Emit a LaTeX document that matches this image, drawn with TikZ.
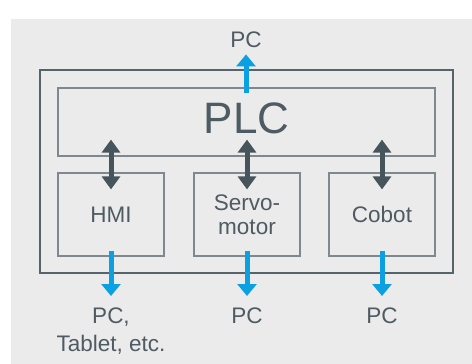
\documentclass[tikz,border=0pt]{standalone}
\usepackage{fontspec}
\setmainfont{Liberation Sans}
\usetikzlibrary{arrows.meta}
\definecolor{bgc}{HTML}{EBEBEB}
\definecolor{boxdark}{HTML}{55636A}
\definecolor{boxlight}{HTML}{7E898F}
\definecolor{txt}{HTML}{4E5B62}
\definecolor{arrdark}{HTML}{46545B}
\definecolor{arrblue}{HTML}{0AA0E2}
\tikzset{
  outerbox/.style={draw=boxdark, line width=2pt, minimum width=413pt, minimum height=203pt, inner sep=0pt},
  innerbox/.style={draw=boxlight, line width=1.2pt, inner sep=0pt, text=txt},
  dev/.style={innerbox, minimum width=106pt, minimum height=83pt, font=\fontsize{22.5}{24}\selectfont, align=center},
  lbl/.style={text=txt, inner sep=0pt, font=\fontsize{22.5}{28}\selectfont, align=center},
  darr/.style={draw=arrdark, line width=5pt, {Triangle[width=18pt,length=13pt]}-{Triangle[width=18pt,length=13pt]}},
  barr/.style={draw=arrblue, line width=5pt, -{Triangle[width=19pt,length=12pt]}}
}
\begin{document}
\begin{tikzpicture}[x=1pt,y=-1pt]
\useasboundingbox (0,0) rectangle (472,364);
\fill[bgc] (11,19) rectangle (472,364);
\node[outerbox] (outer) at (246.5,171.5) {};
\node[innerbox, minimum width=377pt, minimum height=68pt, text depth=7pt, font=\fontsize{44}{44}\selectfont] (plc) at (246.5,122) {PLC};
\node[dev] (hmi) at (111,214.5) {HMI};
\node[dev] (servo) at (247,214.5) {Servo-\\motor};
\node[dev] (cobot) at (382,214.5) {Cobot};
\node[lbl, anchor=base] (pctop) at (246,48) {PC};
\node[lbl, anchor=north] (pc1) at (111,308) {PC,\\Tablet, etc.};
\node[lbl, anchor=north] (pc2) at (247,308) {PC};
\node[lbl, anchor=north] (pc3) at (382,308) {PC};
\draw[barr, shorten <=-6pt, shorten >=6pt] (pctop.south |- plc.north) -- (pctop.south);
\foreach \d in {hmi,servo,cobot}{
  \draw[darr, shorten <=-17pt, shorten >=-17pt] (\d.north |- plc.south) -- (\d.north);
}
\draw[barr, shorten <=-6pt, shorten >=12pt] (hmi.south) -- (hmi.south |- pc1.north);
\draw[barr, shorten <=-6pt, shorten >=12pt] (servo.south) -- (pc2.north);
\draw[barr, shorten <=-6pt, shorten >=12pt] (cobot.south) -- (pc3.north);
\end{tikzpicture}
\end{document}
